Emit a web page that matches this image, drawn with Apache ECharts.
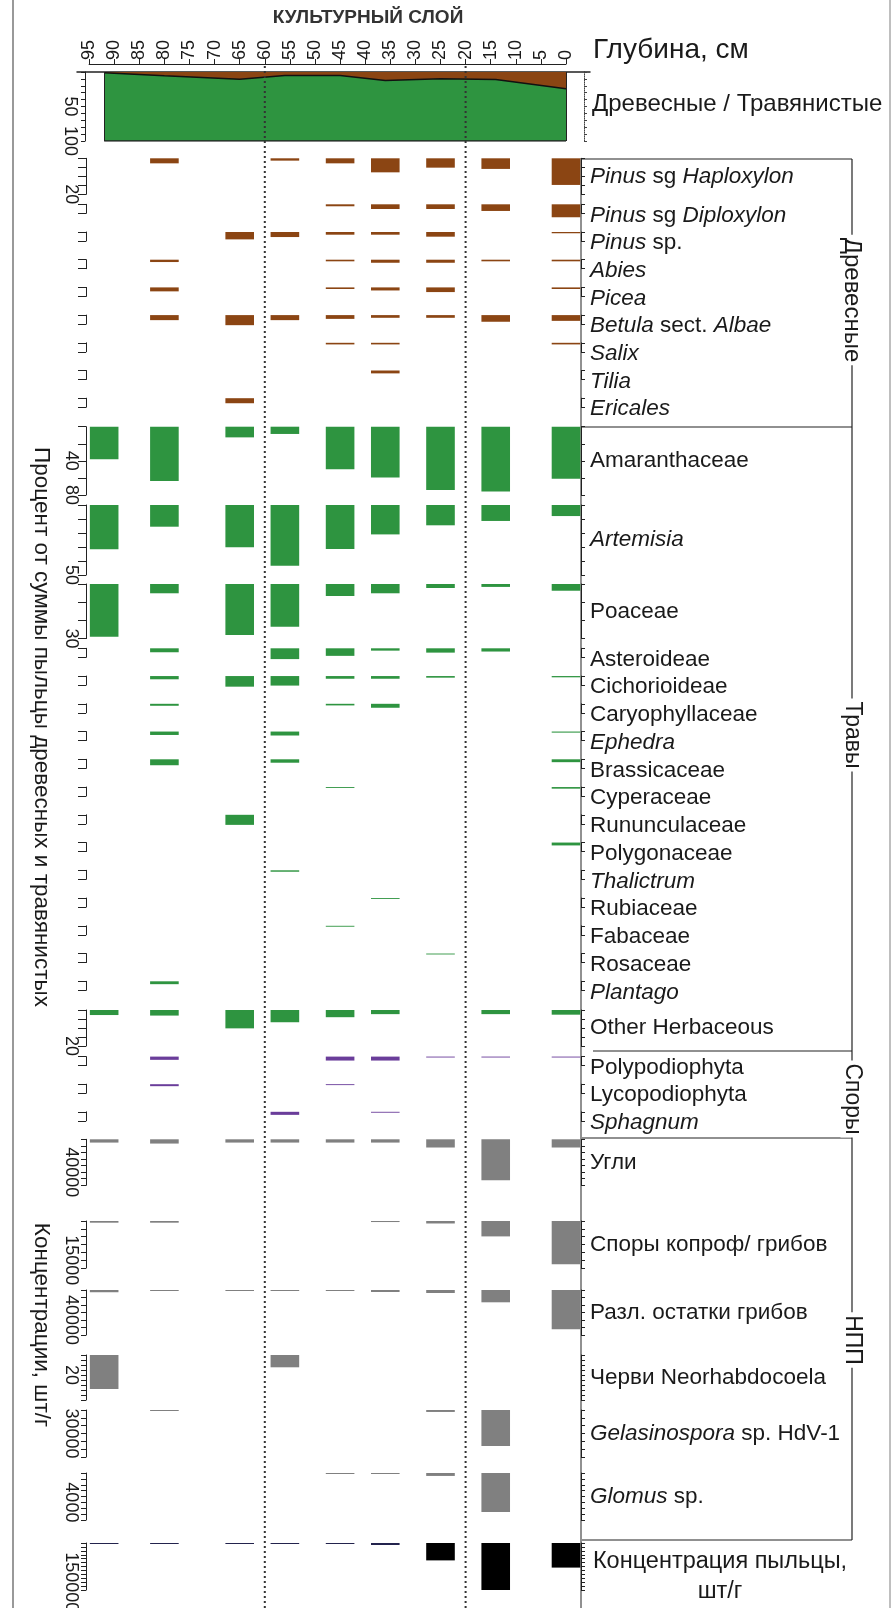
<!DOCTYPE html>
<html><head><meta charset="utf-8">
<script src="https://cdn.jsdelivr.net/npm/echarts/dist/echarts.min.js"></script>
<style>html,body{margin:0;padding:0;background:#fff}#c{width:893px;height:1608px}</style>
</head><body><div id="c"></div><script>
// ---------- DATA ----------
const depths = [92, 80, 65, 56, 45, 36, 25, 14, 0];
const depthTicks = [95, 90, 85, 80, 75, 70, 65, 60, 55, 50, 45, 40, 35, 30, 25, 20, 15, 10, 5, 0];
const layerBounds = [60, 20];
const treeShare = [1, 5.5, 10.5, 5, 4.9, 12.2, 9.8, 10.7, 24.4];

const pinusHaploxylon = [0, 2.8, 0, 1.3, 2.8, 7.8, 5.2, 5.9, 14.8];
const pinusDiploxylon = [0, 0, 0, 0, 1.1, 2.6, 2.6, 3.7, 7.2];
const pinusSp        = [0, 0, 4.1, 2.8, 1.5, 1.5, 2.6, 0, 0.7];
const abies          = [0, 1.3, 0, 0, 0.9, 1.7, 1.7, 0.9, 0.9];
const picea          = [0, 2.2, 0, 0, 0.9, 1.7, 2.6, 0, 0.9];
const betula         = [0, 2.8, 5.6, 2.8, 2.1, 1.5, 1.5, 3.7, 3.2];
const salix          = [0, 0, 0, 0, 0.9, 0.9, 0, 0, 0.9];
const tilia          = [0, 0, 0, 0, 0, 1.6, 0, 0, 0];
const ericales       = [0, 0, 2.8, 0, 0, 0, 0, 0, 0];

const amaranthaceae  = [38, 63.5, 12.5, 8.5, 49.8, 59.6, 74, 76, 61];
const artemisia      = [31.6, 15.5, 30.2, 43.4, 31.4, 21, 14.5, 11.4, 7.9];
const poaceae        = [29, 5.1, 28, 23.5, 6.6, 5.1, 2.2, 1.6, 3.7];
const asteroideae    = [0, 2.2, 0, 6, 4.2, 1.3, 2.4, 1.8, 0];
const cichorioideae  = [0, 1.8, 5.9, 5.3, 1.5, 1.5, 0.9, 0, 0.7];
const caryophyllaceae= [0, 1.1, 0, 0, 0.9, 2.2, 0, 0, 0];
const ephedra        = [0, 1.9, 0, 2.2, 0, 0, 0, 0, 0.6];
const brassicaceae   = [0, 3.3, 0, 1.9, 0, 0, 0, 0, 1.6];
const cyperaceae     = [0, 0, 0, 0, 0.5, 0, 0, 0, 0.9];
const ranunculaceae  = [0, 0, 5.6, 0, 0, 0, 0, 0, 0];
const polygonaceae   = [0, 0, 0, 0, 0, 0, 0, 0, 1.6];
const thalictrum     = [0, 0, 0, 0.8, 0, 0, 0, 0, 0];
const rubiaceae      = [0, 0, 0, 0, 0, 0.5, 0, 0, 0];
const fabaceae       = [0, 0, 0, 0, 0.5, 0, 0, 0, 0];
const rosaceae       = [0, 0, 0, 0, 0, 0, 0.5, 0, 0];
const plantago       = [0, 1.6, 0, 0, 0, 0, 0, 0, 0];
const otherHerbaceous= [2.8, 3.1, 10.2, 6.8, 4, 2.3, 0, 2.3, 2.6];

const polypodiophyta = [0, 1.8, 0, 0, 2.2, 2.2, 0.5, 0.5, 0.5];
const lycopodiophyta = [0, 1.1, 0, 0, 0.5, 0, 0, 0, 0];
const sphagnum       = [0, 0, 0, 1.7, 0, 0.5, 0, 0, 0];

const charcoal       = [4000, 5200, 4000, 4000, 4000, 4000, 10000, 50000, 10000];
const coprophilous   = [650, 650, 0, 0, 0, 400, 950, 5900, 16600];
const fungalRemains  = [3000, 1300, 1300, 1300, 1300, 2700, 4000, 16400, 52400];
const neorhabdocoela = [34, 0, 0, 12.3, 0, 0, 0, 0, 0];
const gelasinospora  = [0, 1300, 0, 0, 0, 0, 2500, 46000, 0];
const glomus         = [0, 0, 0, 0, 140, 140, 400, 5300, 0];
const pollenConc     = [3800, 3800, 3800, 3800, 3800, 7700, 66600, 180000, 94200];

// ---------- LAYOUT / STYLE ----------
const FONT = '"Liberation Sans", Arial, Helvetica, sans-serif';
const BROWN = '#8B4513', GREEN = '#2E9440', PURPLE = '#6A3D9A', GRAY = '#808080', INK = '#1a1a1a';
const X0 = 566, PXCM = 5.02, ROW_L = 86, ROW_R = 581, BAR_CM = 5.7, LABEL_FS = 22.5, TICK_FS = 18;
function depthRange(l, r) { return { min: (X0 - r) / PXCM, max: (X0 - l) / PXCM }; }

function small(lab, data, c, top) { return { lab, data, c, top, h: 9, max: 5, iv: 5, labs: [], ly: top + 11 }; }
const T0 = 204.3, TS = 27.7, H0 = 648.3, HS = 27.75, S0 = 1056.6, SS = 27.6;
const rows = [
  { lab: '{i|Pinus} sg {i|Haploxylon}', data: pinusHaploxylon, c: BROWN, top: 158.3, h: 36, max: 20, iv: 5, labs: [20] },
  small('{i|Pinus} sg {i|Diploxylon}', pinusDiploxylon, BROWN, T0),
  small('{i|Pinus} sp.', pinusSp, BROWN, T0 + TS),
  small('{i|Abies}', abies, BROWN, T0 + 2 * TS),
  small('{i|Picea}', picea, BROWN, T0 + 3 * TS),
  small('{i|Betula} sect. {i|Albae}', betula, BROWN, T0 + 4 * TS),
  small('{i|Salix}', salix, BROWN, T0 + 5 * TS),
  small('{i|Tilia}', tilia, BROWN, T0 + 6 * TS),
  small('{i|Ericales}', ericales, BROWN, T0 + 7 * TS),
  { lab: 'Amaranthaceae', data: amaranthaceae, c: GREEN, top: 426.7, h: 68.3, max: 80, iv: 20, labs: [40, 80] },
  { lab: '{i|Artemisia}', data: artemisia, c: GREEN, top: 505, h: 70, max: 50, iv: 10, labs: [50] },
  { lab: 'Poaceae', data: poaceae, c: GREEN, top: 584, h: 54.6, max: 30, iv: 10, labs: [30] },
  small('Asteroideae', asteroideae, GREEN, H0),
  small('Cichorioideae', cichorioideae, GREEN, H0 + HS),
  small('Caryophyllaceae', caryophyllaceae, GREEN, H0 + 2 * HS),
  small('{i|Ephedra}', ephedra, GREEN, H0 + 3 * HS),
  small('Brassicaceae', brassicaceae, GREEN, H0 + 4 * HS),
  small('Cyperaceae', cyperaceae, GREEN, H0 + 5 * HS),
  small('Rununculaceae', ranunculaceae, GREEN, H0 + 6 * HS),
  small('Polygonaceae', polygonaceae, GREEN, H0 + 7 * HS),
  small('{i|Thalictrum}', thalictrum, GREEN, H0 + 8 * HS),
  small('Rubiaceae', rubiaceae, GREEN, H0 + 9 * HS),
  small('Fabaceae', fabaceae, GREEN, H0 + 10 * HS),
  small('Rosaceae', rosaceae, GREEN, H0 + 11 * HS),
  small('{i|Plantago}', plantago, GREEN, H0 + 12 * HS),
  { lab: 'Other Herbaceous', data: otherHerbaceous, c: GREEN, top: 1010, h: 36, max: 20, iv: 5, labs: [20] },
  small('Polypodiophyta', polypodiophyta, PURPLE, S0),
  small('Lycopodiophyta', lycopodiophyta, PURPLE, S0 + SS),
  small('{i|Sphagnum}', sphagnum, PURPLE, S0 + 2 * SS),
  { lab: 'Угли', data: charcoal, c: GRAY, top: 1139.3, h: 46, max: 56000, iv: 8000, labs: [40000], npp: true },
  { lab: 'Споры копроф/ грибов', data: coprophilous, c: GRAY, top: 1221, h: 47, max: 18000, iv: 3000, labs: [15000], npp: true },
  { lab: 'Разл. остатки грибов', data: fungalRemains, c: GRAY, top: 1290, h: 45, max: 60000, iv: 10000, labs: [40000], npp: true },
  { lab: 'Черви Neorhabdocoela', data: neorhabdocoela, c: GRAY, top: 1355, h: 45, max: 45, iv: 5, labs: [20], npp: true },
  { lab: '{i|Gelasinospora} sp. HdV-1', data: gelasinospora, c: GRAY, top: 1410, h: 47, max: 60000, iv: 10000, labs: [30000], npp: true },
  { lab: '{i|Glomus} sp.', data: glomus, c: GRAY, top: 1473, h: 47, max: 6400, iv: 800, labs: [4000], npp: true },
  { lab: '', data: pollenConc, c: '#000', top: 1543, h: 47, max: 180000, iv: 15000, labs: [150000], npp: true, conc: true }
];

const grids = [], xAxes = [], yAxes = [], series = [], graphics = [];
const axisCol = '#222';

function barRender(conc) {
  return function (params, api) {
    const d = api.value(0), v = api.value(1);
    if (!v) return null;
    const a = api.coord([d, 0]), b = api.coord([d, v]);
    const w = Math.abs(api.size([BAR_CM, 0])[0]);
    const fill = conc ? (v < 10000 ? '#23234d' : '#000') : api.visual('color');
    return { type: 'rect', shape: { x: a[0] - w / 2, y: a[1], width: w, height: b[1] - a[1] }, style: { fill } };
  };
}

// depth scale grid (top)
(function () {
  const gi = grids.length;
  const lo = Math.min(...depthTicks), hi = Math.max(...depthTicks);
  grids.push({ left: X0 - hi * PXCM, width: (hi - lo) * PXCM, top: 64, height: 1, containLabel: false, outerBoundsMode: 'none' });
  xAxes.push({ type: 'value', gridIndex: gi, position: 'top', min: lo, max: hi, interval: depthTicks[0] - depthTicks[1], inverse: true,
    axisLine: { show: true, onZero: false, lineStyle: { color: axisCol, width: 1 } },
    axisTick: { show: true, length: 5, lineStyle: { color: axisCol } },
    axisLabel: { show: true, rotate: -90, fontSize: TICK_FS, fontFamily: FONT, color: INK, margin: 4, showMinLabel: true, showMaxLabel: true },
    splitLine: { show: false } });
  yAxes.push({ type: 'value', gridIndex: gi, show: false, min: 0, max: 1, axisLine: { onZero: false } });
})();

// woody / herb area
(function () {
  const gi = grids.length;
  const L = 77, R = 590;
  const dr = depthRange(L, R);
  grids.push({ left: L, width: R - L, top: 72, height: 69, containLabel: false, outerBoundsMode: 'none' });
  xAxes.push({ type: 'value', gridIndex: gi, position: 'top', min: dr.min, max: dr.max, inverse: true,
    axisLine: { show: true, onZero: false, lineStyle: { color: axisCol, width: 1.5 } }, axisTick: { show: false }, axisLabel: { show: false }, splitLine: { show: false } });
  const yl = yAxes.length;
  yAxes.push({ type: 'value', gridIndex: gi, position: 'left', offset: -8, min: 0, max: 100, interval: 10, inverse: true,
    axisLine: { show: true, onZero: false, lineStyle: { color: axisCol } },
    axisTick: { show: true, length: 4, lineStyle: { color: axisCol } },
    axisLabel: { show: true, rotate: -90, fontSize: TICK_FS, fontFamily: FONT, color: INK, margin: 6, showMaxLabel: true,
      formatter: v => (v === 50 || v === 100) ? String(v) : '' },
    splitLine: { show: false } });
  yAxes.push({ type: 'value', gridIndex: gi, position: 'right', offset: -6, min: 0, max: 100, interval: 10, inverse: true,
    axisLine: { show: true, onZero: false, lineStyle: { color: '#444', type: 'dotted' } },
    axisTick: { show: true, length: 3, lineStyle: { color: '#444' } }, axisLabel: { show: false }, splitLine: { show: false } });
  // herbs fill the whole band, woody share drawn over it from the top
  series.push({ type: 'line', xAxisIndex: gi, yAxisIndex: yl, symbol: 'none', silent: true, z: 2,
    data: depths.map(d => [d, 100]),
    lineStyle: { color: '#222', width: 1.5 }, areaStyle: { color: GREEN, opacity: 1 },
    markLine: { silent: true, symbol: 'none', label: { show: false }, lineStyle: { color: '#222', type: 'solid', width: 1 },
      data: [{ xAxis: depths[0] }, { xAxis: depths[depths.length - 1] }] } });
  series.push({ type: 'line', xAxisIndex: gi, yAxisIndex: yl, symbol: 'none', silent: true, z: 3,
    data: depths.map((d, k) => [d, treeShare[k]]),
    lineStyle: { color: '#111', width: 1.5 }, areaStyle: { color: BROWN, opacity: 1 } });
})();

// taxon rows
rows.forEach(r => {
  const gi = grids.length;
  const dr = depthRange(ROW_L, ROW_R);
  grids.push({ left: ROW_L, width: ROW_R - ROW_L, top: r.top, height: r.h, containLabel: false, outerBoundsMode: 'none' });
  xAxes.push({ type: 'value', gridIndex: gi, min: dr.min, max: dr.max, inverse: true, show: false, axisLine: { onZero: false } });
  const yl = yAxes.length;
  yAxes.push({ type: 'value', gridIndex: gi, position: 'left', min: 0, max: r.max, interval: r.iv, inverse: true,
    axisLine: { show: true, onZero: false, lineStyle: { color: axisCol, width: 1 } },
    axisTick: { show: true, length: r.npp ? 5 : 8, lineStyle: { color: axisCol } },
    axisLabel: { show: true, rotate: -90, fontSize: TICK_FS, fontFamily: FONT, color: INK, margin: 6, showMinLabel: true, showMaxLabel: true,
      formatter: v => r.labs.indexOf(v) >= 0 ? String(v) : '' },
    splitLine: { show: false } });
  yAxes.push({ type: 'value', gridIndex: gi, position: 'right', min: 0, max: r.max, interval: r.iv, inverse: true,
    axisLine: { show: true, onZero: false, lineStyle: { color: axisCol, width: 1 } },
    axisTick: { show: true, length: 4, lineStyle: { color: axisCol } },
    axisLabel: { show: false }, splitLine: { show: false } });
  series.push({ type: 'custom', coordinateSystem: 'cartesian2d', xAxisIndex: gi, yAxisIndex: yl, clip: false, silent: true,
    itemStyle: { color: r.c }, renderItem: barRender(!!r.conc),
    data: depths.map((d, k) => [d, r.data[k]]) });
  if (r.lab) {
    graphics.push({ type: 'text', x: 590, y: r.ly != null ? r.ly : r.top + r.h / 2,
      style: { text: r.lab, fontSize: LABEL_FS, fontFamily: FONT, fill: INK, textAlign: 'left', textVerticalAlign: 'middle', verticalAlign: 'middle',
        rich: { i: { fontStyle: 'italic', fontSize: LABEL_FS, fontFamily: FONT, fill: INK } } } });
  }
});

// overlay for culture-layer boundaries
(function () {
  const gi = grids.length;
  const dr = depthRange(ROW_L, ROW_R);
  grids.push({ left: ROW_L, width: ROW_R - ROW_L, top: 66, height: 1608 - 66, containLabel: false, outerBoundsMode: 'none' });
  xAxes.push({ type: 'value', gridIndex: gi, min: dr.min, max: dr.max, inverse: true, show: false, axisLine: { onZero: false } });
  const yl = yAxes.length;
  yAxes.push({ type: 'value', gridIndex: gi, min: 0, max: 1, show: false, axisLine: { onZero: false } });
  series.push({ type: 'custom', coordinateSystem: 'cartesian2d', xAxisIndex: gi, yAxisIndex: yl, clip: false, silent: true, z: 5,
    data: layerBounds.map(d => [d]),
    renderItem: (p, api) => {
      const a = api.coord([api.value(0), 1]), b = api.coord([api.value(0), 0]);
      return { type: 'line', shape: { x1: a[0], y1: a[1], x2: b[0], y2: b[1] }, style: { stroke: '#333', lineWidth: 2, lineDash: [2, 3] } };
    } });
})();

// decorations
function gline(x1, y1, x2, y2, stroke, w) { graphics.push({ type: 'line', silent: true, shape: { x1, y1, x2, y2 }, style: { stroke, lineWidth: w || 1 } }); }
gline(13, 0, 13, 1608, '#777', 1.5);
gline(890, 0, 890, 1608, '#aaa', 1.5);
gline(581, 158, 581, 1608, '#222', 1);
gline(852, 159, 852, 1540, '#222', 1.2);
[[159, 582], [427, 582], [1051, 593], [1138, 582], [1540, 582]].forEach(([y, x]) => gline(x, y, 852, y, '#222', 1.2));

function rtext(text, x, y, size) {
  graphics.push({ type: 'text', x, y, rotation: -Math.PI / 2, z: 10,
    style: { text, fontSize: size, fontFamily: FONT, fill: INK, textAlign: 'center', textVerticalAlign: 'middle', verticalAlign: 'middle',
      backgroundColor: '#fff', padding: [0, 3] } });
}
rtext('Древесные', 852, 300, 24);
rtext('Травы', 852, 735, 23);
rtext('Споры', 852, 1099, 23);
rtext('НПП', 852, 1340, 23);
graphics.push({ type: 'text', x: 41, y: 727, rotation: -Math.PI / 2,
  style: { text: 'Процент от суммы пыльцы древесных и травянистых', fontSize: 22.5, fontFamily: FONT, fill: INK, textAlign: 'center', textVerticalAlign: 'middle', verticalAlign: 'middle' } });
graphics.push({ type: 'text', x: 41, y: 1325, rotation: -Math.PI / 2,
  style: { text: 'Концентрации, шт/г', fontSize: 22.5, fontFamily: FONT, fill: INK, textAlign: 'center', textVerticalAlign: 'middle', verticalAlign: 'middle' } });

graphics.push({ type: 'text', x: 368, y: 18, style: { text: 'КУЛЬТУРНЫЙ СЛОЙ', fontSize: 19, fontWeight: 'bold', fontFamily: FONT, fill: '#333', textAlign: 'center', textVerticalAlign: 'middle', verticalAlign: 'middle' } });
graphics.push({ type: 'text', x: 593, y: 50, style: { text: 'Глубина, см', fontSize: 28, fontFamily: FONT, fill: INK, textAlign: 'left', textVerticalAlign: 'middle', verticalAlign: 'middle' } });
graphics.push({ type: 'text', x: 592, y: 104, style: { text: 'Древесные / Травянистые', fontSize: 24, fontFamily: FONT, fill: INK, textAlign: 'left', textVerticalAlign: 'middle', verticalAlign: 'middle' } });
graphics.push({ type: 'text', x: 720, y: 1577, style: { text: 'Концентрация пыльцы,\nшт/г', fontSize: 23.5, lineHeight: 30, fontFamily: FONT, fill: INK, textAlign: 'center', textVerticalAlign: 'middle', verticalAlign: 'middle' } });

const chart = echarts.init(document.getElementById('c'), null, { renderer: 'canvas' });
chart.setOption({ animation: false, backgroundColor: '#fff', grid: grids, xAxis: xAxes, yAxis: yAxes, series, graphic: { elements: graphics } });
</script></body></html>
